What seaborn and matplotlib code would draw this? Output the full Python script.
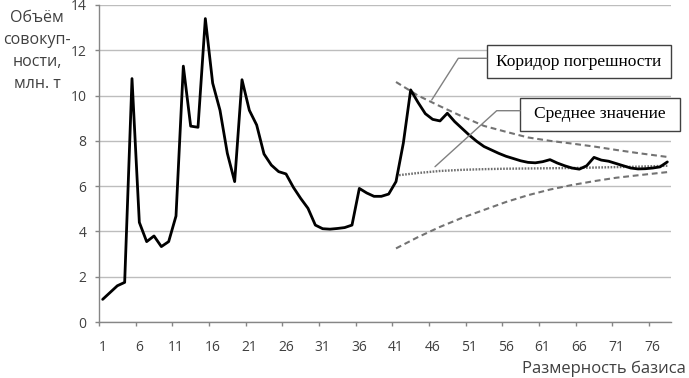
import matplotlib.pyplot as plt
import seaborn as sns
import pandas as pd
from matplotlib.lines import Line2D
from matplotlib.patches import Rectangle

# Main series: volume by basis size
basis = list(range(1, 79))
volume = [1.0, 1.3, 1.6, 1.75, 10.75, 4.4, 3.55, 3.8, 3.33, 3.55,
          4.68, 11.3, 8.65, 8.6, 13.4, 10.55, 9.35, 7.45, 6.2, 10.7,
          9.35, 8.7, 7.42, 6.93, 6.64, 6.54, 5.95, 5.46, 5.02, 4.28,
          4.12, 4.1, 4.13, 4.17, 4.28, 5.9, 5.7, 5.55, 5.55, 5.65,
          6.2, 7.9, 10.25, 9.7, 9.2, 8.95, 8.88, 9.22, 8.85, 8.55,
          8.25, 7.98, 7.75, 7.6, 7.45, 7.32, 7.22, 7.12, 7.05, 7.03,
          7.08, 7.17, 7.02, 6.9, 6.8, 6.75, 6.9, 7.27, 7.15, 7.1,
          7.0, 6.9, 6.8, 6.76, 6.77, 6.8, 6.85, 7.07]

# Error corridor and mean value
band_x = [41, 44, 47, 50, 53, 56, 59, 62, 65, 68, 71, 74, 78]
upper = [10.6, 10.0, 9.53, 9.08, 8.66, 8.4, 8.15, 8.0, 7.88, 7.75, 7.6, 7.46, 7.29]
lower = [3.25, 3.75, 4.2, 4.6, 4.95, 5.3, 5.6, 5.85, 6.05, 6.22, 6.37, 6.48, 6.62]
mean = [6.47, 6.58, 6.67, 6.72, 6.75, 6.77, 6.78, 6.79, 6.8, 6.82, 6.84, 6.86, 6.9]

x_ticks = list(range(1, 77, 5))
y_ticks = list(range(0, 15, 2))

sns.set_theme(style="white")
plt.rcParams['font.family'] = ['Open Sans', 'DejaVu Sans']

W, H = 689, 378
fig = plt.figure(figsize=(W / 100, H / 100), dpi=100)
ax = fig.add_axes([99 / W, 1 - 322 / H, 572 / W, 317 / H])

df = pd.DataFrame({"basis": basis, "volume": volume})
band = pd.DataFrame({"basis": band_x, "upper": upper, "lower": lower, "mean": mean})

sns.lineplot(data=band, x="basis", y="upper", ax=ax, color="#737373",
             lw=1.5, linestyle=(0, (2.8, 1.8)))
sns.lineplot(data=band, x="basis", y="lower", ax=ax, color="#737373",
             lw=1.5, linestyle=(0, (2.8, 1.8)))
sns.lineplot(data=band, x="basis", y="mean", ax=ax, color="#6e6e6e",
             lw=1.7, linestyle=(0, (0.7, 0.6)))
sns.lineplot(data=df, x="basis", y="volume", ax=ax, color="black", lw=2.0)

ax.set_xlim(0.5, 78.5)
ax.set_ylim(0, 14)
ax.set_yticks(y_ticks)
ax.set_xticks(x_ticks)
ax.set_xticks([t - 0.5 for t in x_ticks], minor=True)
ax.set_xlabel("")
ax.set_ylabel("")

ax.yaxis.grid(True, color="#bdbdbd", lw=1.0)
ax.set_axisbelow(True)
for s in ["top", "right"]:
    ax.spines[s].set_visible(False)
for s in ["left", "bottom"]:
    ax.spines[s].set_color("#868686")
    ax.spines[s].set_linewidth(1.0)

ax.tick_params(axis="y", which="major", length=3, width=1, color="#868686",
               direction="out", left=True, pad=6, labelsize=10, labelcolor="#404040")
ax.tick_params(axis="x", which="major", length=0, pad=13, labelsize=10,
               labelcolor="#404040")
ax.tick_params(axis="x", which="minor", length=3, width=1, color="#868686",
               direction="out", bottom=True)

fig.text(37 / W, 1 - 51 / H, "Объём\nсовокуп-\nности,\nмлн. т", ha="center",
         va="center", fontsize=11.5, color="#404040", linespacing=1.5)
fig.text(686 / W, 1 - 369 / H, "Размерность базиса", ha="right", va="center",
         fontsize=12, color="#404040")


def px(x, y):
    return x / W, 1 - y / H


# annotation boxes with leader lines
for (x0, y0, x1, y1), label, leader in [
    ((486.7, 45, 670.7, 78.3), "Коридор погрешности",
     [(486.7, 58.3), (458.3, 58.3), (431.7, 100)]),
    ((520, 97.7, 680, 131), "Среднее значение",
     [(520, 110.7), (496.7, 110.7), (435, 166.7)]),
]:
    pts = [px(*p) for p in leader]
    fig.add_artist(Line2D([p[0] for p in pts], [p[1] for p in pts],
                          transform=fig.transFigure, color="#808080", lw=1.0))
    bx, by = px(x0, y1)
    fig.add_artist(Rectangle((bx, by), (x1 - x0) / W, (y1 - y0) / H,
                             transform=fig.transFigure, facecolor="white",
                             edgecolor="#404040", lw=1.0))
    cx, cy = px((x0 + x1) / 2, (y0 + y1) / 2)
    fig.text(cx, cy, label, ha="center", va="center", fontsize=12.5,
             family="Liberation Serif", color="black")

fig.savefig("out.png", dpi=100)
